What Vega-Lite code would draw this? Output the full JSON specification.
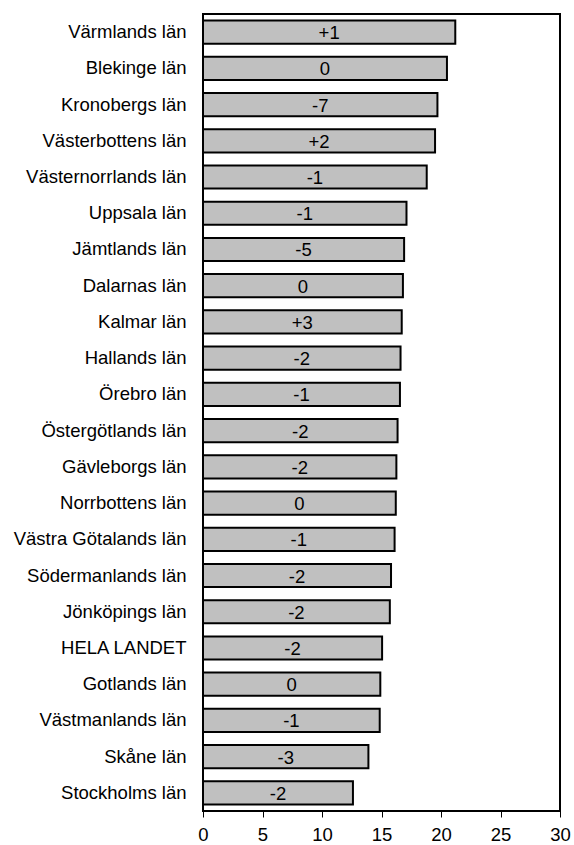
{
  "$schema": "https://vega.github.io/schema/vega-lite/v6.json",
  "autosize": {"type": "none"},
  "width": 357,
  "height": 797,
  "padding": {"left": 203, "top": 14, "right": 14, "bottom": 34},
  "background": "white",
  "config": {
    "font": "Liberation Sans",
    "view": {"stroke": "black", "strokeWidth": 2},
    "axis": {"grid": false, "labelFont": "Liberation Sans", "labelFontSize": 18.5, "labelColor": "black"}
  },
  "data": {
    "values": [
      {"lan": "Värmlands län", "value": 21.2, "change": "+1"},
      {"lan": "Blekinge län", "value": 20.5, "change": "0"},
      {"lan": "Kronobergs län", "value": 19.7, "change": "-7"},
      {"lan": "Västerbottens län", "value": 19.5, "change": "+2"},
      {"lan": "Västernorrlands län", "value": 18.8, "change": "-1"},
      {"lan": "Uppsala län", "value": 17.1, "change": "-1"},
      {"lan": "Jämtlands län", "value": 16.9, "change": "-5"},
      {"lan": "Dalarnas län", "value": 16.8, "change": "0"},
      {"lan": "Kalmar län", "value": 16.7, "change": "+3"},
      {"lan": "Hallands län", "value": 16.6, "change": "-2"},
      {"lan": "Örebro län", "value": 16.55, "change": "-1"},
      {"lan": "Östergötlands län", "value": 16.35, "change": "-2"},
      {"lan": "Gävleborgs län", "value": 16.25, "change": "-2"},
      {"lan": "Norrbottens län", "value": 16.2, "change": "0"},
      {"lan": "Västra Götalands län", "value": 16.1, "change": "-1"},
      {"lan": "Södermanlands län", "value": 15.8, "change": "-2"},
      {"lan": "Jönköpings län", "value": 15.7, "change": "-2"},
      {"lan": "HELA LANDET", "value": 15.05, "change": "-2"},
      {"lan": "Gotlands län", "value": 14.9, "change": "0"},
      {"lan": "Västmanlands län", "value": 14.85, "change": "-1"},
      {"lan": "Skåne län", "value": 13.9, "change": "-3"},
      {"lan": "Stockholms län", "value": 12.6, "change": "-2"}
    ]
  },
  "encoding": {
    "y": {
      "field": "lan",
      "type": "nominal",
      "sort": null,
      "title": null,
      "scale": {"paddingInner": 0.36, "paddingOuter": 0.18},
      "axis": {"ticks": false, "domain": false, "labelPadding": 17}
    }
  },
  "layer": [
    {
      "mark": {"type": "bar", "fill": "#c0c0c0", "stroke": "black", "strokeWidth": 2},
      "encoding": {
        "x": {
          "field": "value",
          "type": "quantitative",
          "title": null,
          "scale": {"domain": [0, 30], "nice": false},
          "axis": {"values": [0, 5, 10, 15, 20, 25, 30], "tickColor": "black", "tickSize": 6, "tickWidth": 1, "domain": false, "labelPadding": 8, "labelFlush": false}
        }
      }
    },
    {
      "transform": [{"calculate": "datum.value / 2", "as": "mid"}],
      "mark": {"type": "text", "fontSize": 18.5, "color": "black", "font": "Liberation Sans", "baseline": "middle", "dy": 1},
      "encoding": {
        "x": {"field": "mid", "type": "quantitative"},
        "text": {"field": "change"}
      }
    }
  ]
}
